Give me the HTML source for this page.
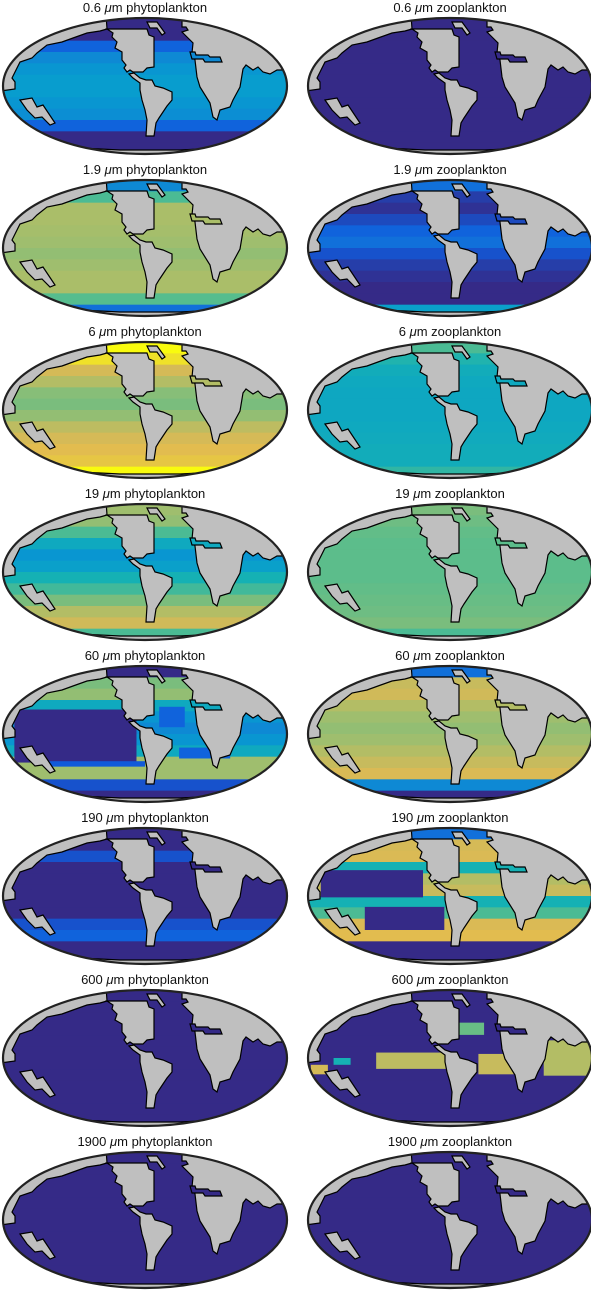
<!DOCTYPE html>
<html><head><meta charset="utf-8">
<style>
html,body{margin:0;padding:0;background:#fff;}
body{width:591px;height:1299px;overflow:hidden;}
svg{display:block;}
.t{font-family:"Liberation Sans",sans-serif;font-size:13px;fill:#111;}
</style></head>
<body>
<svg id="fig" width="591" height="1299" viewBox="0 0 591 1299" xmlns="http://www.w3.org/2000/svg"></svg>
<script>
// Data: per-panel latitude-band values (top -> bottom), normalized 0..1 on parula scale
const titlesSize = ["0.6","0.6","1.9","1.9","6","6","19","19","60","60","190","190","600","600","1900","1900"];
const titlesKind = ["phytoplankton","zooplankton"];
const bands0 = [0,0,0.15,0.3,0.35,0.38,0.38,0.35,0.32,0.15,0,0];
const bands1 = [0,0,0,0,0,0,0,0,0,0,0,0];
const bands2 = [0.3,0.6,0.76,0.76,0.75,0.74,0.72,0.74,0.76,0.76,0.62,0.2];
const bands3 = [0.2,0.05,0.02,0.08,0.15,0.2,0.1,0.05,0.02,0,0,0.4];
const bands4 = [1,0.95,0.85,0.78,0.7,0.68,0.72,0.8,0.85,0.88,0.9,1];
const bands5 = [0.6,0.52,0.47,0.45,0.44,0.44,0.44,0.45,0.46,0.47,0.47,0.55];
const bands6 = [0.74,0.72,0.6,0.45,0.35,0.4,0.5,0.58,0.68,0.78,0.84,0.6];
const bands7 = [0.68,0.66,0.64,0.63,0.63,0.63,0.63,0.64,0.65,0.66,0.68,0.6];
const bands8 = [0,0.68,0.72,0.45,0.35,0.3,0.35,0.45,0.74,0.74,0.1,0];
const bands9 = [0.2,0.82,0.84,0.78,0.74,0.72,0.74,0.78,0.82,0.86,0.3,0];
const bands10 = [0,0,0.1,0,0,0,0,0,0.1,0.15,0,0];
const bands11 = [0.2,0.85,0.86,0.5,0.78,0.82,0.5,0.6,0.86,0.88,0,0];
const bands12 = [0,0,0,0,0,0,0,0,0,0,0,0];
const bands13 = [0,0,0,0,0,0,0,0,0,0,0,0];
const bands14 = [0,0,0,0,0,0,0,0,0,0,0,0];
const bands15 = [0,0,0,0,0,0,0,0,0,0,0,0];
const allBands = [bands0,bands1,bands2,bands3,bands4,bands5,bands6,bands7,bands8,bands9,bands10,bands11,bands12,bands13,bands14,bands15];
// Patches: [panel] + box in lon/lat fractions + value
const patchPanel = [8,8,8,8,11,11,13,13,13,13,13,13];
const patchBox = [[0.04,0.32,0.47,0.71],[0.55,0.3,0.64,0.45],[0.14,0.7,0.5,0.74],[0.62,0.6,0.8,0.68],[0.045,0.31,0.405,0.51],[0.2,0.58,0.48,0.75],[0.24,0.46,0.5,0.58],[0.5,0.24,0.62,0.33],[0.6,0.47,0.74,0.62],[0.83,0.37,1,0.63],[0.01,0.55,0.07,0.62],[0.09,0.5,0.15,0.55]];
const patchVal = [0,0.15,0.12,0.15,0,0,0.8,0.65,0.82,0.78,0.85,0.5];

const stops=[[53,42,135],[15,92,221],[18,125,216],[7,156,207],[21,177,180],[89,189,140],[165,190,107],[225,185,82],[249,251,14]];
function parula(v){v=Math.max(0,Math.min(1,v));const p=v*8,i=Math.min(7,Math.floor(p)),f=p-i;const a=stops[i],b=stops[i+1];
return `rgb(${[0,1,2].map(k=>Math.round(a[k]+(b[k]-a[k])*f)).join(',')})`;}

const NS="http://www.w3.org/2000/svg";
const svg=document.getElementById('fig');
function mk(tag,attrs,parent){const e=document.createElementNS(NS,tag);for(const k in attrs)e.setAttribute(k,attrs[k]);parent.appendChild(e);return e;}

const land={
 west:"0,0 105,0 107,29 100,31 87,33 73,38 62,42 47,45 37,53 32,58 20,62 12,78 15,82 15,89 0,91",
 na:"107,29 147,29 149,35 154,37 154,67 147,68 143,72 133,72 130,70 127,72 124,68 126,65 122,60 122,52 115,48 117,42 112,37 113,33",
 sa:"129,74 134,73 140,78 146,80 152,80 155,86 163,88 172,92 172,100 167,106 163,112 159,118 156,123 154,136 146,136 147,120 145,110 142,100 140,90 140,83 133,78",
 eur:"182,0 300,0 300,70 277,70 270,74 263,72 258,67 253,70 246,65 243,69 240,87 233,100 230,107 220,110 217,120 213,117 210,103 200,87 197,77 195,60 192,53 193,43 187,37 182,32 188,30 186,27 182,27",
 gr:"147,22 157,22 165,33 162,35 157,28 150,28",
 au:"20,100 32,98 37,107 43,105 55,123 50,125 42,117 35,118 27,110",
 ant:"0,149 60,149 62,146 80,148 120,150 180,150 220,148 240,150 300,149 300,170 0,170",
 med:"190,52 195,52 196,55 208,55 210,57 220,57 222,62 205,62 203,59 192,59"
};
const CX=145,CY=86,RX=142,RY=68;
const gAll=mk('g',{},svg);
for(let p=0;p<16;p++){
  const col=p%2,row=Math.floor(p/2);
  const ox=col?305:0, oy=row*162;
  const g=mk('g',{transform:`translate(${ox},${oy})`},gAll);
  
  
  const t=mk('text',{x:CX,y:12,'text-anchor':'middle',class:'t'},g);
  
  
  t.innerHTML=titlesSize[p]+' <tspan font-style="italic">μ</tspan>m '+titlesKind[col];
  const cid='clip'+p;
  const cp=mk('clipPath',{id:cid},g);
  mk('ellipse',{cx:CX,cy:CY,rx:RX,ry:RY},cp);
  const inner=mk('g',{'clip-path':`url(#${cid})`},g);
  const bands=allBands[p], top=CY-RY, bh=2*RY/bands.length;
  bands.forEach((v,i)=>{
    const r=mk('rect',{x:0,y:(top+i*bh).toFixed(2),width:300,height:(bh+0.6).toFixed(2),fill:parula(v)},inner);
    
    
  });
  patchPanel.forEach((pp,k)=>{
    if(pp!==p)return;
    const b=patchBox[k];
    const r=mk('rect',{x:CX-RX+b[0]*2*RX,y:top+b[1]*2*RY,width:(b[2]-b[0])*2*RX,height:(b[3]-b[1])*2*RY,fill:parula(patchVal[k])},inner);
    
    
  });
  for(const k of ['west','na','sa','eur','gr','au','ant']){
    const pl=mk('polygon',{points:land[k],fill:'#bfbfbf',stroke:'#000','stroke-width':1.2,'stroke-linejoin':'miter'},inner);
    
    
  }
  const medv=bands[3];
  const md=mk('polygon',{points:land.med,fill:parula(medv),stroke:'#000','stroke-width':1.2},inner);
  
  
  const el=mk('ellipse',{cx:CX,cy:CY,rx:RX,ry:RY,fill:'none',stroke:'#222','stroke-width':2.2},g);
  
  
}
</script>
</body></html>
